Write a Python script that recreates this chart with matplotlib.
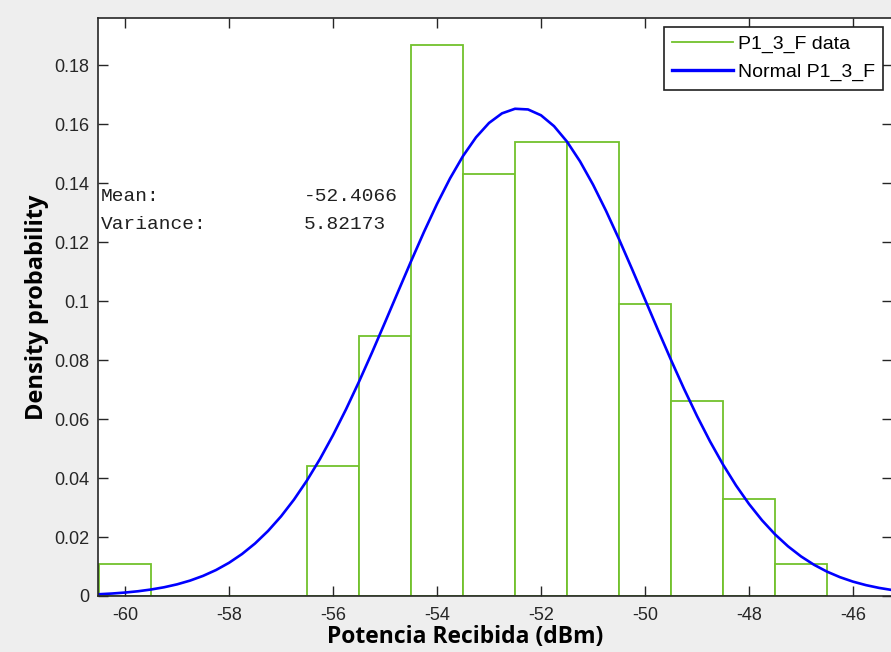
import matplotlib.pyplot as plt
import numpy as np
from matplotlib.lines import Line2D

# histogram (bin centres in dBm, density per 1 dBm bin)
bin_centers = [-60, -59, -58, -57, -56, -55, -54, -53, -52, -51, -50, -49, -48, -47]
bin_heights = [0.011, 0, 0, 0, 0.044, 0.088, 0.187, 0.143, 0.154, 0.154, 0.099, 0.066, 0.033, 0.011]

# fitted normal curve
curve_x = [-60.5, -60.25, -60.0, -59.75, -59.5, -59.25, -59.0, -58.75, -58.5, -58.25,
           -58.0, -57.75, -57.5, -57.25, -57.0, -56.75, -56.5, -56.25, -56.0, -55.75,
           -55.5, -55.25, -55.0, -54.75, -54.5, -54.25, -54.0, -53.75, -53.5, -53.25,
           -53.0, -52.75, -52.5, -52.25, -52.0, -51.75, -51.5, -51.25, -51.0, -50.75,
           -50.5, -50.25, -50.0, -49.75, -49.5, -49.25, -49.0, -48.75, -48.5, -48.25,
           -48.0, -47.75, -47.5, -47.25, -47.0, -46.75, -46.5, -46.25, -46.0, -45.75,
           -45.5, -45.25, -45.0]
curve_y = [0.00060, 0.00084, 0.00117, 0.00161, 0.00220, 0.00296, 0.00395, 0.00522, 0.00682, 0.00881,
           0.01126, 0.01424, 0.01781, 0.02205, 0.02700, 0.03271, 0.03921, 0.04649, 0.05455, 0.06331,
           0.07269, 0.08257, 0.09280, 0.10317, 0.11348, 0.12349, 0.13295, 0.14160, 0.14920, 0.15554,
           0.16041, 0.16367, 0.16522, 0.16499, 0.16301, 0.15933, 0.15407, 0.14739, 0.13950, 0.13062,
           0.12100, 0.11089, 0.10055, 0.09019, 0.08004, 0.07026, 0.06103, 0.05244, 0.04458, 0.03749,
           0.03120, 0.02568, 0.02091, 0.01685, 0.01343, 0.01059, 0.00826, 0.00638, 0.00487, 0.00368,
           0.00275, 0.00203, 0.00149]

mean_txt = '-52.4066'
var_txt = '5.82173'

green = '#72c12c'
blue = '#0000ff'

plt.rcParams['font.family'] = ['Liberation Sans', 'DejaVu Sans']
plt.rcParams['axes.unicode_minus'] = False

fig = plt.figure(figsize=(8.91, 6.52), dpi=100, facecolor='#eeeeee')
ax = fig.add_axes([98 / 891, 1 - 596 / 652, 794 / 891, 578 / 652])

ax.bar(bin_centers, bin_heights, width=1.0, facecolor='white', edgecolor=green,
       linewidth=1.3)
ax.plot(curve_x, curve_y, color=blue, linewidth=1.9)

ax.set_xlim(-60.52, -45.25)
ax.set_ylim(0, 0.196)
ax.set_xticks(np.arange(-60, -45, 2))
ax.set_yticks(np.arange(0, 0.19, 0.02))
ax.set_yticklabels(['0', '0.02', '0.04', '0.06', '0.08', '0.1', '0.12', '0.14', '0.16', '0.18'])

ax.tick_params(direction='in', length=7, width=1, top=True, right=True,
               labelsize=13, colors='#262626', pad=6)
ax.tick_params(axis='x', pad=8)
for s in ax.spines.values():
    s.set_color('#262626')
    s.set_linewidth(1.2)

ax.set_xlabel('Potencia Recibida (dBm)', family='Open Sans', fontweight='bold',
              fontsize=16.5)
ax.xaxis.set_label_coords(0.462, -0.050, transform=ax.transAxes)
ax.xaxis.label.set_va('top')
ax.set_ylabel('Density probability', family='Open Sans', fontweight='bold',
              fontsize=17)
ax.yaxis.set_label_coords(-0.062, 0.5, transform=ax.transAxes)

mono = dict(family='Liberation Mono', fontsize=14, color='#202020')
ax.text(-60.46, 0.134, 'Mean:', **mono)
ax.text(-56.56, 0.134, mean_txt, **mono)
ax.text(-60.46, 0.1244, 'Variance:', **mono)
ax.text(-56.56, 0.1244, var_txt, **mono)

handles = [Line2D([], [], color=green, linewidth=1.3), Line2D([], [], color=blue, linewidth=2.4)]
leg = ax.legend(handles, ['P1_3_F data', 'Normal P1_3_F'], loc='upper right', fontsize=14,
                fancybox=False, framealpha=1, edgecolor='#202020', borderaxespad=0.45,
                handlelength=3.1, handletextpad=0.25, borderpad=0.45, labelspacing=0.5)
leg.get_frame().set_linewidth(1.2)

fig.savefig('out.png', dpi=100, facecolor=fig.get_facecolor())
